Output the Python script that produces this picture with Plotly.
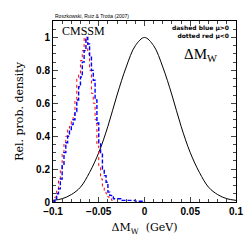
import plotly.graph_objects as go

# Black curve (overall likelihood), read at sample points
gauss_x = [-0.1, -0.09, -0.08, -0.07, -0.06, -0.05, -0.04, -0.03, -0.02, -0.01, 0.0,
           0.01, 0.02, 0.03, 0.04, 0.05, 0.06, 0.07, 0.08, 0.09, 0.1]
gauss_y = [0.01, 0.02, 0.045, 0.09, 0.18, 0.30, 0.46, 0.65, 0.82, 0.95, 1.0,
           0.95, 0.82, 0.65, 0.46, 0.30, 0.18, 0.09, 0.045, 0.02, 0.01]

# Red dotted (mu<0) histogram
red_x = [-0.100, -0.098, -0.096, -0.094, -0.092, -0.090, -0.088, -0.086, -0.084, -0.082,
         -0.080, -0.078, -0.076, -0.074, -0.072, -0.070, -0.068, -0.066, -0.064, -0.062,
         -0.060, -0.058, -0.056, -0.054, -0.052, -0.050, -0.048, -0.046, -0.044, -0.042,
         -0.040, -0.038, -0.036, -0.034]
red_y = [0.0, 0.03, 0.07, 0.13, 0.20, 0.30, 0.36, 0.40, 0.44, 0.46,
         0.49, 0.53, 0.62, 0.75, 0.78, 0.86, 0.92, 1.0, 0.97, 0.90,
         0.80, 0.66, 0.60, 0.50, 0.34, 0.22, 0.14, 0.09, 0.06, 0.05,
         0.03, 0.02, 0.01, 0.0]

# Blue dashed (mu>0) histogram
blue_x = [-0.100, -0.098, -0.096, -0.094, -0.092, -0.090, -0.088, -0.086, -0.084, -0.082,
          -0.080, -0.078, -0.076, -0.074, -0.072, -0.070, -0.068, -0.066, -0.064, -0.062,
          -0.060, -0.058, -0.056, -0.054, -0.052, -0.050, -0.048, -0.046, -0.044, -0.042,
          -0.040, -0.038, -0.036, -0.034, -0.030, -0.026, -0.020, -0.010, 0.0]
blue_y = [0.0, 0.02, 0.05, 0.08, 0.14, 0.22, 0.30, 0.36, 0.40, 0.44,
          0.47, 0.50, 0.55, 0.62, 0.70, 0.76, 0.85, 0.92, 1.0, 0.96,
          0.88, 0.80, 0.74, 0.62, 0.48, 0.36, 0.30, 0.20, 0.16, 0.12,
          0.06, 0.04, 0.03, 0.02, 0.02, 0.01, 0.01, 0.005, 0.0]

x_ticks = [-0.1, -0.05, 0, 0.05, 0.1]
x_tick_text = ["\u22120.1", "\u22120.05", "0", "0.05", "0.1"]
y_ticks = [0, 0.2, 0.4, 0.6, 0.8, 1]
y_tick_text = ["0", "0.2", "0.4", "0.6", "0.8", "1"]

fig = go.Figure()
fig.add_trace(go.Scatter(x=gauss_x, y=gauss_y, mode="lines", line=dict(color="black", width=1, shape="spline")))
fig.add_trace(go.Scatter(x=red_x, y=red_y, mode="lines", line=dict(color="red", width=1, dash="dot", shape="hv")))
fig.add_trace(go.Scatter(x=blue_x, y=blue_y, mode="lines", line=dict(color="blue", width=1.4, dash="4px,2px", shape="hv")))

tickfont = dict(family="Liberation Sans", size=10, color="black", weight="bold")
fig.update_layout(
    width=249, height=249,
    margin=dict(l=53, r=13, t=21, b=47, autoexpand=False),
    paper_bgcolor="white", plot_bgcolor="white",
    showlegend=False,
    xaxis=dict(range=[-0.1, 0.1], tickvals=x_ticks, ticktext=x_tick_text,
               ticks="inside", ticklen=5, tickfont=tickfont, automargin=True,
               showgrid=False, zeroline=False, showline=True, linecolor="black", linewidth=1, mirror="ticks",
               minor=dict(dtick=0.01, ticks="inside", ticklen=3, showgrid=False),
               title=dict(text="ΔM<sub>W</sub>  (GeV)", font=dict(family="DejaVu Serif", size=11, color="black"), standoff=7)),
    yaxis=dict(range=[0, 1.1], tickvals=y_ticks, ticktext=y_tick_text,
               ticks="inside", ticklen=5, tickfont=tickfont, automargin=True,
               showgrid=False, zeroline=False, showline=True, linecolor="black", linewidth=1, mirror="ticks",
               minor=dict(dtick=0.05, ticks="inside", ticklen=3, showgrid=False),
               title=dict(text="Rel. prob. density", font=dict(family="DejaVu Serif", size=11, color="black"), standoff=10)),
)

fig.add_annotation(x=0, y=1, xref="paper", yref="paper", xanchor="left", yanchor="bottom", yshift=0,
                   text="Roszkowski, Ruiz &amp; Trotta (2007)", showarrow=False,
                   font=dict(family="Liberation Sans", size=5, color="black"))
fig.add_annotation(x=0.04, y=0.995, xref="paper", yref="paper", xanchor="left", yanchor="top",
                   text="CMSSM", showarrow=False,
                   font=dict(family="Liberation Serif", size=12, color="black"))
fig.add_annotation(x=0.975, y=0.995, xref="paper", yref="paper", xanchor="right", yanchor="top", align="right",
                   text="<b>dashed blue μ&gt;0</b><br><b>dotted red μ&lt;0</b>", showarrow=False,
                   font=dict(family="DejaVu Sans", size=6, color="black"))
fig.add_annotation(x=0.905, y=0.81, xref="paper", yref="paper", xanchor="right", yanchor="middle",
                   text="ΔM<sub>W</sub>", showarrow=False,
                   font=dict(family="Liberation Serif", size=15, color="black"))

fig.write_html("out.html", config={"displayModeBar": False},
               post_script="document.body.style.margin='0';document.body.style.overflow='hidden';")
